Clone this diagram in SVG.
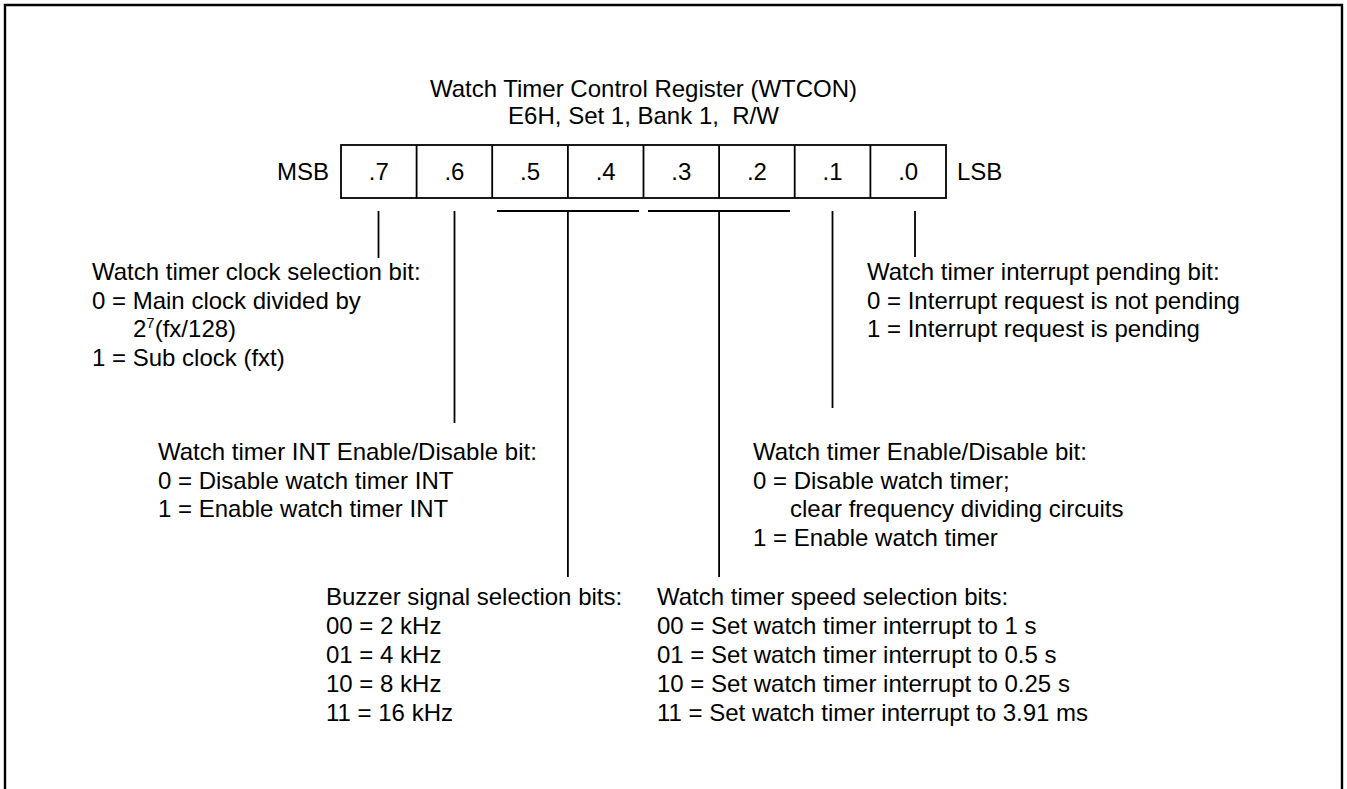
<svg xmlns="http://www.w3.org/2000/svg" width="1347" height="789" viewBox="0 0 1347 789">
<style>
text{font-family:"Liberation Sans",Arial,sans-serif;font-size:24px;fill:#000}
.c{text-anchor:middle}
.ln{stroke:#000;stroke-width:1.8;fill:none}
.fr{stroke:#000;stroke-width:2.4;fill:none}
</style>
<rect width="1347" height="789" fill="#fff"/>
<path class="fr" d="M5,789 V5 H1342 V789"/>
<g id="title">
<text class="c" x="643.5" y="97">Watch Timer Control Register (WTCON)</text>
<text class="c" x="643.5" y="124">E6H, Set 1, Bank 1,&#160; R/W</text>
</g>
<g id="register">
<rect class="ln" x="341" y="145" width="605" height="53"/>
<path class="ln" d="M416.6,145V198M492.2,145V198M567.9,145V198M643.5,145V198M719.1,145V198M794.7,145V198M870.4,145V198"/>
<text x="329" y="180" text-anchor="end">MSB</text>
<text x="957" y="180">LSB</text>
<text class="c" x="378.8" y="180">.7</text>
<text class="c" x="454.4" y="180">.6</text>
<text class="c" x="530" y="180">.5</text>
<text class="c" x="605.7" y="180">.4</text>
<text class="c" x="681.3" y="180">.3</text>
<text class="c" x="756.9" y="180">.2</text>
<text class="c" x="832.5" y="180">.1</text>
<text class="c" x="908.2" y="180">.0</text>
</g>
<g id="connectors">
<path class="ln" d="M378.5,211V258"/>
<path class="ln" d="M454.5,211V423"/>
<path class="ln" d="M497,211H639M567.9,211V577"/>
<path class="ln" d="M648,211H790M719.1,211V577"/>
<path class="ln" d="M832.5,211V408"/>
<path class="ln" d="M915,211V257"/>
</g>
<g id="bit7">
<text x="92" y="280">Watch timer clock selection bit:</text>
<text x="92" y="308.5">0 = Main clock divided by</text>
<text x="133" y="337">2<tspan font-size="15" dy="-9">7</tspan><tspan dy="9">(fx/128)</tspan></text>
<text x="92" y="365.5">1 = Sub clock (fxt)</text>
</g>
<g id="bit0">
<text x="867" y="280">Watch timer interrupt pending bit:</text>
<text x="867" y="308.5">0 = Interrupt request is not pending</text>
<text x="867" y="337">1 = Interrupt request is pending</text>
</g>
<g id="bit6">
<text x="158" y="460">Watch timer INT Enable/Disable bit:</text>
<text x="158" y="488.5">0 = Disable watch timer INT</text>
<text x="158" y="517">1 = Enable watch timer INT</text>
</g>
<g id="bit1">
<text x="753" y="460">Watch timer Enable/Disable bit:</text>
<text x="753" y="488.5">0 = Disable watch timer;</text>
<text x="790" y="517">clear frequency dividing circuits</text>
<text x="753" y="545.5">1 = Enable watch timer</text>
</g>
<g id="bits54">
<text x="326" y="605">Buzzer signal selection bits:</text>
<text x="326" y="634">00 = 2 kHz</text>
<text x="326" y="663">01 = 4 kHz</text>
<text x="326" y="692">10 = 8 kHz</text>
<text x="326" y="721">11 = 16 kHz</text>
</g>
<g id="bits32">
<text x="657" y="605">Watch timer speed selection bits:</text>
<text x="657" y="634">00 = Set watch timer interrupt to 1 s</text>
<text x="657" y="663">01 = Set watch timer interrupt to 0.5 s</text>
<text x="657" y="692">10 = Set watch timer interrupt to 0.25 s</text>
<text x="657" y="721">11 = Set watch timer interrupt to 3.91 ms</text>
</g>
</svg>
